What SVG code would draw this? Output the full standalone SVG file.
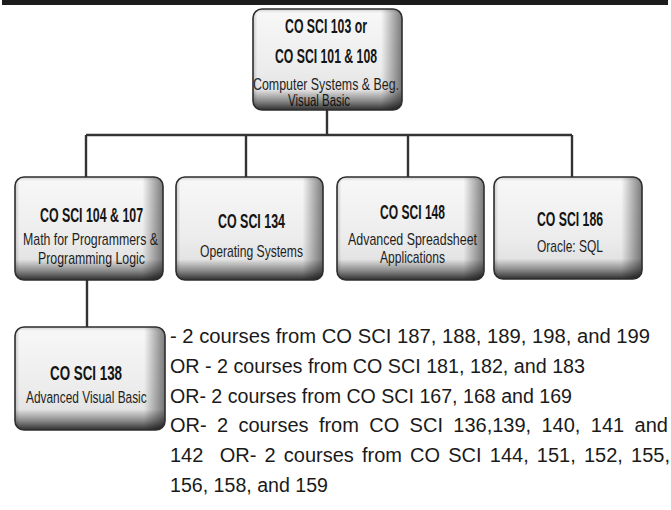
<svg xmlns="http://www.w3.org/2000/svg" width="671" height="510" viewBox="0 0 671 510">
<style>
.base{fill:url(#gBase)}
.rs{fill:url(#gRight)}
.bs{fill:url(#gBottom)}
.bd{fill:none;stroke:#2e2e2e;stroke-width:1.6}
.t{font-family:"Liberation Sans",Arial,sans-serif;font-weight:bold;font-size:20px;fill:#141414}
.s{font-family:"Liberation Sans",Arial,sans-serif;font-size:17px;fill:#1e1e1e}
.s2{font-family:"Liberation Sans",Arial,sans-serif;font-size:16px;fill:#1e1e1e}
.b{font-family:"Liberation Sans",Arial,sans-serif;font-size:20px;fill:#1a1a1a}
.c{fill:none;stroke:#333;stroke-width:2.4}
</style>
<defs>
<linearGradient id="gBase" x1="0" y1="0" x2="0" y2="1">
<stop offset="0" stop-color="#d2d2d2"/>
<stop offset="0.04" stop-color="#f7f7f7"/>
<stop offset="0.6" stop-color="#ececec"/>
<stop offset="1" stop-color="#dadada"/>
</linearGradient>
<linearGradient id="gRight" x1="0" y1="0" x2="1" y2="0">
<stop offset="0" stop-color="#000" stop-opacity="0.18"/>
<stop offset="0.03" stop-color="#000" stop-opacity="0"/>
<stop offset="0.86" stop-color="#000" stop-opacity="0"/>
<stop offset="1" stop-color="#000" stop-opacity="0.5"/>
</linearGradient>
<linearGradient id="gBottom" x1="0" y1="0" x2="0" y2="1">
<stop offset="0" stop-color="#000" stop-opacity="0"/>
<stop offset="0.8" stop-color="#000" stop-opacity="0"/>
<stop offset="0.91" stop-color="#000" stop-opacity="0.38"/>
<stop offset="1" stop-color="#000" stop-opacity="0.78"/>
</linearGradient>
</defs>
<rect x="2" y="0" width="666" height="5" fill="#1c1c1c"/>
<g id="connectors">
<path class="c" d="M327 110V135M86 135H572M86 135V177M246 135V177M408 135V177M572 135V177M87 280V327"/>
</g>
<g id="n103">
<rect class="base" x="253" y="9" width="149" height="101" rx="9"/>
<rect class="rs" x="253" y="9" width="149" height="101" rx="9"/>
<text class="t" x="285" y="33" textLength="82" lengthAdjust="spacingAndGlyphs">CO SCI 103 or</text>
<text class="t" x="275" y="63" textLength="102" lengthAdjust="spacingAndGlyphs">CO SCI 101 &amp; 108</text>
<text class="s2" x="253" y="90" textLength="146" lengthAdjust="spacingAndGlyphs">Computer Systems &amp; Beg.</text>
<text class="s2" x="288" y="105.5" textLength="62" lengthAdjust="spacingAndGlyphs">Visual Basic</text>
<rect class="bs" x="253" y="9" width="149" height="101" rx="9"/>
<rect class="bd" x="253" y="9" width="149" height="101" rx="9"/>
</g>
<g id="n104">
<rect class="base" x="15" y="177" width="148" height="103" rx="9"/>
<rect class="rs" x="15" y="177" width="148" height="103" rx="9"/>
<text class="t" x="40" y="222" textLength="103" lengthAdjust="spacingAndGlyphs">CO SCI 104 &amp; 107</text>
<text class="s" x="23" y="245" textLength="135" lengthAdjust="spacingAndGlyphs">Math for Programmers &amp;</text>
<text class="s" x="38" y="264" textLength="107" lengthAdjust="spacingAndGlyphs">Programming Logic</text>
<rect class="bs" x="15" y="177" width="148" height="103" rx="9"/>
<rect class="bd" x="15" y="177" width="148" height="103" rx="9"/>
</g>
<g id="n134">
<rect class="base" x="176" y="177" width="147" height="103" rx="9"/>
<rect class="rs" x="176" y="177" width="147" height="103" rx="9"/>
<text class="t" x="218" y="228" textLength="67" lengthAdjust="spacingAndGlyphs">CO SCI 134</text>
<text class="s" x="200" y="257" textLength="103" lengthAdjust="spacingAndGlyphs">Operating Systems</text>
<rect class="bs" x="176" y="177" width="147" height="103" rx="9"/>
<rect class="bd" x="176" y="177" width="147" height="103" rx="9"/>
</g>
<g id="n148">
<rect class="base" x="337" y="177" width="147" height="103" rx="9"/>
<rect class="rs" x="337" y="177" width="147" height="103" rx="9"/>
<text class="t" x="380" y="219" textLength="65" lengthAdjust="spacingAndGlyphs">CO SCI 148</text>
<text class="s" x="348" y="245" textLength="129" lengthAdjust="spacingAndGlyphs">Advanced Spreadsheet</text>
<text class="s" x="380" y="263" textLength="65" lengthAdjust="spacingAndGlyphs">Applications</text>
<rect class="bs" x="337" y="177" width="147" height="103" rx="9"/>
<rect class="bd" x="337" y="177" width="147" height="103" rx="9"/>
</g>
<g id="n186">
<rect class="base" x="494" y="177" width="148" height="102" rx="9"/>
<rect class="rs" x="494" y="177" width="148" height="102" rx="9"/>
<text class="t" x="537" y="226" textLength="66" lengthAdjust="spacingAndGlyphs">CO SCI 186</text>
<text class="s" x="537" y="252" textLength="66" lengthAdjust="spacingAndGlyphs">Oracle: SQL</text>
<rect class="bs" x="494" y="177" width="148" height="102" rx="9"/>
<rect class="bd" x="494" y="177" width="148" height="102" rx="9"/>
</g>
<g id="n138">
<rect class="base" x="15" y="327" width="150" height="103" rx="9"/>
<rect class="rs" x="15" y="327" width="150" height="103" rx="9"/>
<text class="t" x="50" y="380" textLength="72" lengthAdjust="spacingAndGlyphs">CO SCI 138</text>
<text class="s" transform="translate(26 403) scale(0.7 1)" x="0" y="0">Advanced Visual Basic</text>
<rect class="bs" x="15" y="327" width="150" height="103" rx="9"/>
<rect class="bd" x="15" y="327" width="150" height="103" rx="9"/>
</g>
<g id="electives">
<text class="b" x="170" y="343" textLength="480" lengthAdjust="spacingAndGlyphs">- 2 courses from CO SCI 187, 188, 189, 198, and 199</text>
<text class="b" x="170" y="372.8" textLength="415" lengthAdjust="spacingAndGlyphs">OR - 2 courses from CO SCI 181, 182, and 183</text>
<text class="b" x="170" y="402.6" textLength="402" lengthAdjust="spacingAndGlyphs">OR- 2 courses from CO SCI 167, 168 and 169</text>
<text class="b" x="170" y="432.4" word-spacing="4.8">OR- 2 courses from CO SCI 136,139, 140, 141 and</text>
<text class="b" x="170" y="462.2" word-spacing="2.6">142&#160; OR- 2 courses from CO SCI 144, 151, 152, 155,</text>
<text class="b" x="170" y="492" textLength="158" lengthAdjust="spacingAndGlyphs">156, 158, and 159</text>
</g>
</svg>
